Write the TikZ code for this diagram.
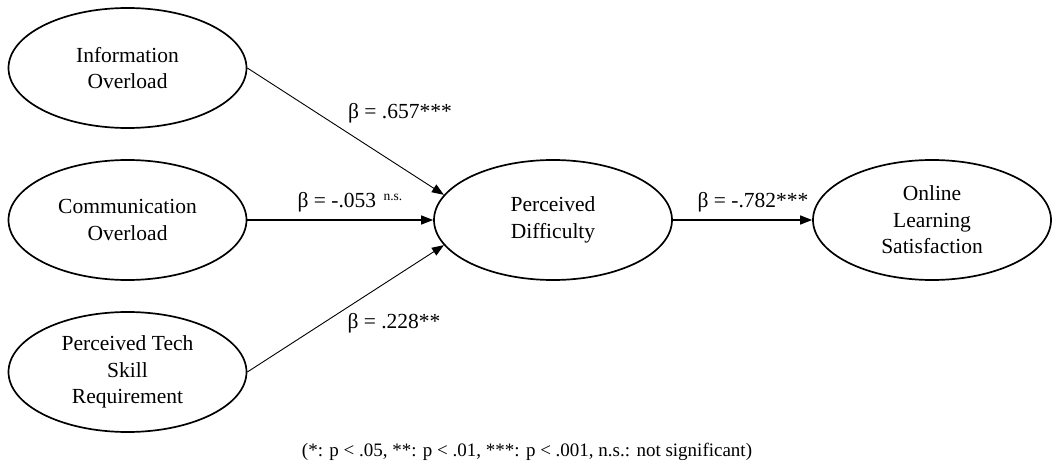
\documentclass[tikz,border=0pt]{standalone}
\usepackage{fontspec}
\setmainfont{Liberation Serif}
\usetikzlibrary{arrows.meta,shapes.geometric}
\begin{document}
\begin{tikzpicture}[x=1pt,y=-1pt,
  construct/.style={ellipse,draw,line width=1.7pt,minimum width=238pt,minimum height=120pt,inner sep=0pt,align=center,font=\fontsize{21.5}{26.5}\selectfont},
  path/.style={-{Triangle[length=12pt,width=9pt]},line width=0.9pt},
  hpath/.style={-{Triangle[length=12pt,width=9pt]},line width=1.3pt},
  coef/.style={font=\fontsize{21.5}{26.5}\selectfont,inner sep=0pt},
  note/.style={font=\fontsize{19}{23}\selectfont,inner sep=0pt}]
\useasboundingbox (0,0) rectangle (1054,470);
\node[construct] (io) at (127.5,68) {Information\\Overload};
\node[construct] (co) at (127.5,220) {Communication\\Overload};
\node[construct] (ts) at (127.5,372) {Perceived Tech\\Skill\\Requirement};
\node[construct] (pd) at (553,220) {Perceived\\Difficulty};
\node[construct] (ols) at (932,220) {Online\\Learning\\Satisfaction};
\draw[path] (io.east) -- (pd.167);
\draw[hpath] (co.east) -- (pd.west);
\draw[path] (ts.east) -- (pd.193);
\draw[hpath] (pd.east) -- (ols.west);
\node[coef] (l1) at (400,113) {β = .657***};
\node[coef] (l2) at (350,202) {β = -.053 \hspace{2pt}{\fontsize{13.5}{14}\selectfont\raisebox{7pt}{n.s.}}};
\node[coef] (l3) at (394,323) {β = .228**};
\node[coef] (l4) at (753,202) {β = -.782***};
\node[note] (cap) at (527,452) {(*: p < .05, **: p < .01, ***: p < .001, n.s.: not significant)};
\end{tikzpicture}
\end{document}
